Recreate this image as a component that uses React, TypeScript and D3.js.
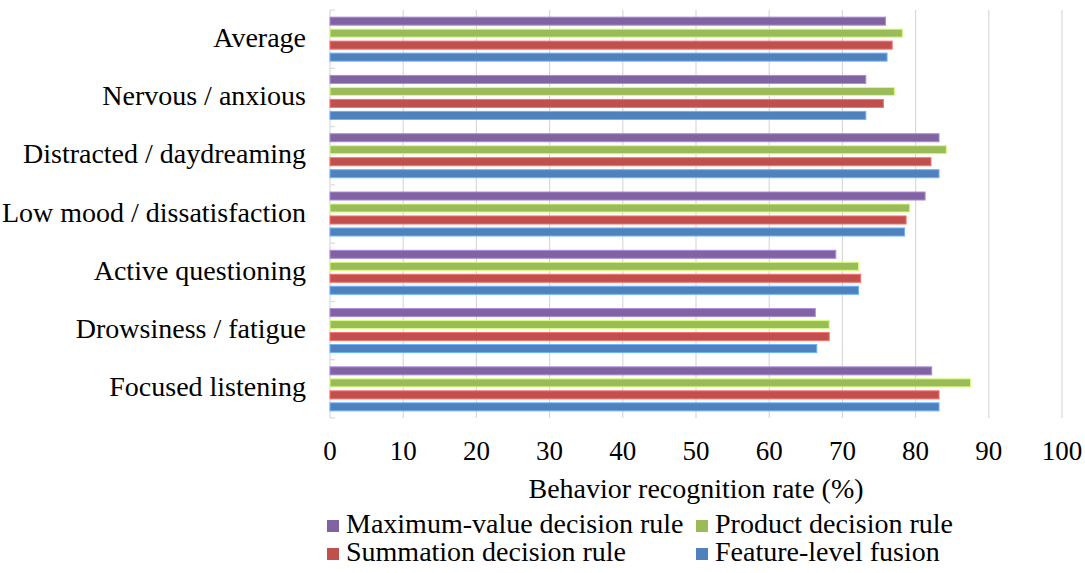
import { useEffect, useRef } from 'react';
import * as d3 from 'd3';

// categories top to bottom
const categories = [
  'Average',
  'Nervous / anxious',
  'Distracted / daydreaming',
  'Low mood / dissatisfaction',
  'Active questioning',
  'Drowsiness / fatigue',
  'Focused listening',
];

const seriesNames = [
  'Maximum-value decision rule',
  'Product decision rule',
  'Summation decision rule',
  'Feature-level fusion',
];

const seriesColors = ['#8064A2', '#9BBB59', '#C0504D', '#4F81BD'];

// values per category, same order as categories
const maxValueRule = [75.9, 73.2, 83.2, 81.3, 69.1, 66.3, 82.2];
const productRule = [78.2, 77.1, 84.2, 79.2, 72.2, 68.2, 87.5];
const summationRule = [76.8, 75.6, 82.1, 78.7, 72.5, 68.2, 83.2];
const featureFusion = [76.1, 73.2, 83.2, 78.5, 72.2, 66.5, 83.2];

const xTicks = [0, 10, 20, 30, 40, 50, 60, 70, 80, 90, 100];

const FONT = "'Liberation Serif', 'Times New Roman', Times, 'DejaVu Serif', serif";

export default function App() {
  const containerRef = useRef<HTMLDivElement>(null);

  useEffect(() => {
    document.body.style.margin = '0';
    if (!containerRef.current) return;
    d3.select(containerRef.current).selectAll('*').remove();

    const width = 1085;
    const height = 573;
    const left = 330;
    const right = 1062;
    const top = 10;
    const bottom = 418;

    const svg = d3.select(containerRef.current)
      .append('svg')
      .attr('width', width)
      .attr('height', height)
      .style('display', 'block')
      .style('background', '#ffffff')
      .style('font-family', FONT);

    const x = d3.scaleLinear().domain([0, 100]).range([left, right]);

    const y = d3.scaleBand<string>()
      .domain(categories)
      .range([top, bottom])
      .paddingInner(0.245)
      .paddingOuter(0.1225);

    const ySub = d3.scaleBand<string>()
      .domain(seriesNames)
      .range([0, y.bandwidth()])
      .paddingInner(0.33)
      .paddingOuter(0);

    const allSeries = [maxValueRule, productRule, summationRule, featureFusion];

    // gridlines
    svg.append('g')
      .selectAll('line')
      .data(xTicks.filter(t => t > 0))
      .enter()
      .append('line')
      .attr('x1', d => x(d))
      .attr('x2', d => x(d))
      .attr('y1', top)
      .attr('y2', bottom)
      .attr('stroke', '#d9d9d9')
      .attr('stroke-width', 1.2);

    // y axis line
    svg.append('line')
      .attr('x1', x(0))
      .attr('x2', x(0))
      .attr('y1', top)
      .attr('y2', bottom)
      .attr('stroke', '#d9d9d9')
      .attr('stroke-width', 1.2);

    // small ticks at band boundaries
    const step = y.step();
    const boundaries = d3.range(categories.length + 1).map(i => top + i * step);
    svg.append('g')
      .selectAll('line')
      .data(boundaries)
      .enter()
      .append('line')
      .attr('x1', x(0))
      .attr('x2', x(0) + 5)
      .attr('y1', d => d)
      .attr('y2', d => d)
      .attr('stroke', '#d9d9d9')
      .attr('stroke-width', 1.2);

    // bars
    categories.forEach((cat, ci) => {
      const g = svg.append('g').attr('transform', `translate(0, ${y(cat)})`);
      seriesNames.forEach((name, si) => {
        const v = allSeries[si][ci];
        const c = d3.color(seriesColors[si])!;
        g.append('rect')
          .attr('x', x(0))
          .attr('y', ySub(name)!)
          .attr('width', x(v) - x(0))
          .attr('height', ySub.bandwidth())
          .attr('fill', seriesColors[si])
          .attr('stroke', c.brighter(0.9).formatHex())
          .attr('stroke-width', 1);
      });
    });

    // category labels
    svg.append('g')
      .selectAll('text')
      .data(categories)
      .enter()
      .append('text')
      .attr('x', 306)
      .attr('y', d => y(d)! + y.bandwidth() / 2)
      .attr('dy', '0.27em')
      .attr('text-anchor', 'end')
      .style('font-family', FONT)
      .style('font-size', '28px')
      .attr('fill', '#000')
      .text(d => d);

    // x tick labels
    svg.append('g')
      .selectAll('text')
      .data(xTicks)
      .enter()
      .append('text')
      .attr('x', d => x(d))
      .attr('y', 460)
      .attr('text-anchor', 'middle')
      .style('font-family', FONT)
      .style('font-size', '27px')
      .attr('fill', '#000')
      .text(d => d);

    // axis title
    svg.append('text')
      .attr('x', (left + right) / 2)
      .attr('y', 498)
      .attr('text-anchor', 'middle')
      .style('font-family', FONT)
      .style('font-size', '28px')
      .attr('fill', '#000')
      .text('Behavior recognition rate (%)');

    // legend, two columns
    const legendCols = [327, 696];
    const legendRows = [533, 561];
    seriesNames.forEach((name, i) => {
      const lx = legendCols[i % 2];
      const ly = legendRows[Math.floor(i / 2)];
      svg.append('rect')
        .attr('x', lx)
        .attr('y', ly - 13)
        .attr('width', 12)
        .attr('height', 12)
        .attr('fill', seriesColors[i]);
      svg.append('text')
        .attr('x', lx + 19)
        .attr('y', ly)
        .style('font-family', FONT)
        .style('font-size', '28px')
        .attr('fill', '#000')
        .text(name);
    });
  }, []);

  return <div ref={containerRef} style={{ width: 1085, height: 573 }} />;
}
